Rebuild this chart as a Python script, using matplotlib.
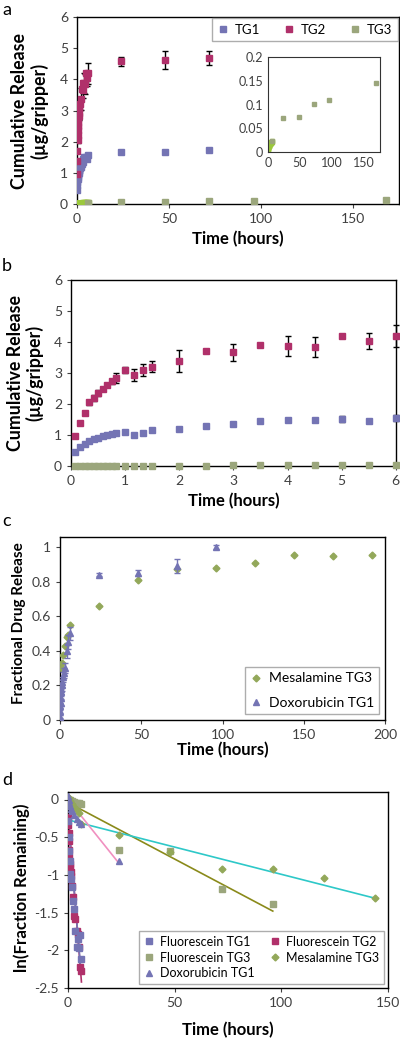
import numpy as np
import matplotlib
matplotlib.use("Agg")
import matplotlib.pyplot as plt

plt.rcParams['font.family'] = ['Lato', 'DejaVu Sans']
plt.rcParams['font.size'] = 9

c_tg1 = "#7474b4"
c_tg2 = "#b0306a"
c_tg3 = "#9ba67c"
c_tg3e = "#9bc83c"
c_mes = "#93a85a"

# ---- panels a / b : cumulative release (ug/gripper) ----
t_short = [0.083, 0.167, 0.25, 0.333, 0.417, 0.5, 0.583, 0.667, 0.75, 0.833,
           1.0, 1.167, 1.333, 1.5, 2.0, 2.5, 3.0, 3.5, 4.0, 4.5, 5.0, 5.5, 6.0]
tg1_short = [0.44, 0.61, 0.72, 0.81, 0.86, 0.92, 0.97, 0.99, 1.02, 1.07,
             1.10, 1.01, 1.08, 1.15, 1.20, 1.29, 1.34, 1.44, 1.50, 1.47, 1.51, 1.45, 1.56]
tg1_short_err = [0, 0, 0, 0, 0, 0, 0, 0, 0, 0,
                 0, 0, 0, 0, 0.05, 0, 0, 0, 0, 0.06, 0.1, 0, 0.1]
tg2_short = [0.96, 1.38, 1.71, 2.05, 2.20, 2.36, 2.50, 2.60, 2.74, 2.84,
             3.09, 2.93, 3.09, 3.20, 3.38, 3.70, 3.67, 3.89, 3.88, 3.85, 4.19, 4.03, 4.19]
tg2_short_err = [0, 0, 0, 0.08, 0.1, 0.1, 0.05, 0.05, 0.08, 0.15,
                 0.1, 0.2, 0.2, 0.18, 0.35, 0, 0.27, 0, 0.33, 0.32, 0, 0.25, 0.35]
tg3_short = [0.005, 0.006, 0.007, 0.008, 0.009, 0.010, 0.010, 0.011, 0.011, 0.012,
             0.012, 0.013, 0.013, 0.014, 0.015, 0.016, 0.017, 0.018, 0.019, 0.020, 0.021, 0.022, 0.023]

t_long = [24, 48, 72]
tg1_long = [1.68, 1.67, 1.75]
tg2_long = [4.58, 4.62, 4.68]
tg2_long_err = [0.15, 0.3, 0.23]
t3_long = [24, 48, 72, 96, 168]
tg3_long = [0.072, 0.074, 0.102, 0.110, 0.145]

# ---- panel c : fractional drug release ----
mes_t = [0.5, 1, 2, 3, 4, 5, 6, 24, 48, 72, 96, 120, 144, 168, 192]
mes_f = [0.30, 0.33, 0.376, 0.425, 0.48, 0.49, 0.55, 0.66, 0.807, 0.873, 0.878, 0.907, 0.952, 0.948, 0.952]
dox_t = [0.083, 0.167, 0.25, 0.333, 0.5, 0.667, 0.833, 1.0, 1.5, 2.0, 2.5, 3.0, 4.0, 5.0, 6.0, 24, 48, 72, 96]
dox_f = [0.02, 0.05, 0.08, 0.10, 0.13, 0.16, 0.18, 0.20, 0.22, 0.25, 0.27, 0.30, 0.40, 0.45, 0.50, 0.84, 0.85, 0.89, 1.0]
dox_err = [0.01, 0.02, 0.02, 0.02, 0.02, 0.02, 0.03, 0.03, 0.03, 0.03, 0.03, 0.03, 0.04, 0.04, 0.04, 0.01, 0.015, 0.04, 0.01]

# ---- panel d : ln(fraction remaining) ----
fl1_t = [0.083, 0.25, 0.5, 0.75, 1.0, 1.5, 2.0, 2.5, 3.0, 3.5, 4.0, 4.5, 5.0, 5.5, 6.0]
fl1_y = [-0.29, -0.50, -0.68, -0.82, -0.99, -1.06, -1.16, -1.35, -1.45, -1.75, -1.95, -1.85, -1.97, -1.80, -2.12]
fl2_t = [0.083, 0.167, 0.25, 0.333, 0.5, 0.667, 0.833, 1.0, 1.167, 1.333, 1.5, 2.0, 2.5, 3.0, 3.5, 4.0, 4.5, 5.0, 5.5, 6.0]
fl2_y = [-0.23, -0.34, -0.44, -0.55, -0.67, -0.76, -0.86, -0.96, -0.90, -0.96, -1.02, -1.15, -1.29, -1.55, -1.58, -1.75, -1.78, -1.95, -2.22, -2.27]
fl3_t = [0.25, 1, 2, 3, 4, 5, 6, 24, 48, 72, 96]
fl3_y = [0.0, -0.01, -0.02, -0.03, -0.04, -0.05, -0.06, -0.665, -0.687, -1.19, -1.39]
mes_d_t = [0.5, 1, 2, 3, 4, 5, 6, 24, 48, 72, 96, 120, 144]
mes_d_y = [0.02, -0.02, -0.06, -0.10, -0.14, -0.18, -0.32, -0.475, -0.69, -0.916, -0.916, -1.035, -1.30]
dox_d_t = [0.083, 0.25, 0.5, 1.0, 1.5, 2.0, 3.0, 4.0, 5.0, 6.0, 24]
dox_d_y = [0.05, 0.0, -0.05, -0.08, -0.12, -0.15, -0.20, -0.26, -0.30, -0.33, -0.82]

# linear fits (end points)
fit_fl1_x, fit_fl1_y = [0, 6.0], [-0.25, -2.25]
fit_fl2_x, fit_fl2_y = [0, 6.3], [-0.15, -2.42]
fit_fl3_x, fit_fl3_y = [0, 96], [-0.04, -1.48]
fit_mes_x, fit_mes_y = [0, 144], [-0.27, -1.31]
fit_dox_x, fit_dox_y = [0, 24], [0.0, -0.85]

fig = plt.figure(figsize=(4, 10.4), dpi=100)

def style(ax):
    for s in ax.spines.values():
        s.set_linewidth(1.0)
        s.set_color("black")
    ax.tick_params(direction="out", length=3, width=0.8, labelsize=10, colors="#404040")

lbl = dict(fontsize=12, fontweight="bold")

# ----- a -----
ax = fig.add_axes([0.1925, 0.8038, 0.805, 0.1798])
style(ax)
h1 = ax.errorbar(t_short + t_long, tg1_short + tg1_long, fmt="s", color=c_tg1, ms=4.5, zorder=3)
h2 = ax.errorbar(t_short + t_long, tg2_short + tg2_long, yerr=tg2_short_err + tg2_long_err,
                 fmt="s", color=c_tg2, ms=4.5, ecolor="black", elinewidth=1, capsize=2.5, zorder=4)
ax.plot(t_short, tg3_short, "s", color=c_tg3e, ms=4.5, zorder=3)
h3, = ax.plot([6] + t3_long, [tg3_short[-1]] + tg3_long, "s", color=c_tg3, ms=4.5, zorder=3)
ax.set_xlim(0, 175)
ax.set_ylim(0, 6)
ax.set_xticks([0, 50, 100, 150])
ax.set_xlabel("Time (hours)", **lbl)
ax.set_ylabel("Cumulative Release\n(\u00b5g/gripper)", fontsize=12.8, fontweight="bold", linespacing=1.1)
ax.yaxis.set_label_coords(-0.09, 0.5)
ax.legend([h1[0], h2[0], h3], ["TG1", "TG2", "TG3"], loc="upper right", ncol=3, fontsize=9.5,
          frameon=True, fancybox=False, edgecolor="#999999", handlelength=0.8, handletextpad=0.5,
          columnspacing=1.8, borderaxespad=0.1)
fig.text(0.005, 0.998, "a", fontsize=13, va="top")

ins = fig.add_axes([0.67, 0.8538, 0.28, 0.0913])
for s in ins.spines.values():
    s.set_linewidth(0.8)
    s.set_color("#333333")
ins.tick_params(length=0, labelsize=9, colors="#404040")
ins.plot(t_short, tg3_short, "s", color=c_tg3e, ms=3.5)
ins.plot([6] + t3_long, [tg3_short[-1]] + tg3_long, "s", color=c_tg3, ms=3.5)
ins.set_xlim(0, 175)
ins.set_ylim(0, 0.2)
ins.set_xticks([0, 50, 100, 150])
ins.set_yticks([0, 0.05, 0.1, 0.15, 0.2])
ins.set_yticklabels(["0", "0.05", "0.1", "0.15", "0.2"])

# ----- b -----
ax = fig.add_axes([0.1775, 0.5519, 0.812, 0.1788])
style(ax)
ax.errorbar(t_short, tg1_short, yerr=tg1_short_err, fmt="s", color=c_tg1, ms=4.5,
            ecolor="black", elinewidth=1, capsize=2.5, zorder=3, clip_on=False)
ax.errorbar(t_short, tg2_short, yerr=tg2_short_err, fmt="s", color=c_tg2, ms=4.5,
            ecolor="black", elinewidth=1, capsize=2.5, zorder=4, clip_on=False)
ax.plot(t_short, tg3_short, "s", color=c_tg3, ms=4.5, zorder=3, clip_on=False)
ax.set_xlim(0, 6)
ax.set_ylim(0, 6)
ax.set_xlabel("Time (hours)", **lbl)
ax.set_ylabel("Cumulative Release\n(\u00b5g/gripper)", fontsize=12.8, fontweight="bold", linespacing=1.1)
ax.yaxis.set_label_coords(-0.085, 0.5)
fig.text(0.005, 0.752, "b", fontsize=13, va="top")

# ----- c -----
ax = fig.add_axes([0.15, 0.3077, 0.8125, 0.176])
style(ax)
hm, = ax.plot(mes_t, mes_f, "D", color=c_mes, ms=3.5, zorder=3)
hd = ax.errorbar(dox_t, dox_f, yerr=dox_err, fmt="^", color=c_tg1, ms=4.5, ecolor=c_tg1,
                 elinewidth=1, capsize=2, zorder=4)
ax.set_xlim(0, 200)
ax.set_ylim(0, 1.058)
ax.set_yticks([0, 0.2, 0.4, 0.6, 0.8, 1])
ax.set_yticklabels(["0", "0.2", "0.4", "0.6", "0.8", "1"])
ax.set_xlabel("Time (hours)", **lbl, labelpad=1)
ax.set_ylabel("Fractional Drug Release", fontsize=11, fontweight="bold")
ax.yaxis.set_label_coords(-0.105, 0.53)
ax.legend([hm, hd[0]], ["Mesalamine TG3", "Doxorubicin TG1"], loc="lower right", fontsize=10,
          frameon=True, fancybox=False, edgecolor="#999999",
          handlelength=0.8, handletextpad=0.5, borderaxespad=0.4, labelspacing=0.9)
fig.text(0.005, 0.507, "c", fontsize=13, va="top")

# ----- d -----
ax = fig.add_axes([0.17, 0.05, 0.8, 0.1885])
style(ax)
ax.plot(fit_fl2_x, fit_fl2_y, color=c_tg2, lw=1.2, zorder=2)
ax.plot(fit_fl1_x, fit_fl1_y, color=c_tg1, lw=1.2, zorder=2)
ax.plot(fit_fl3_x, fit_fl3_y, color="#8a8a1a", lw=1.2, zorder=2)
ax.plot(fit_mes_x, fit_mes_y, color="#2ec8c8", lw=1.2, zorder=2)
ax.plot(fit_dox_x, fit_dox_y, color="#f090c0", lw=1.2, zorder=2)
p1, = ax.plot(fl1_t, fl1_y, "s", color=c_tg1, ms=4.5, zorder=4)
p2, = ax.plot(fl2_t, fl2_y, "s", color=c_tg2, ms=4.5, zorder=3)
p3, = ax.plot(fl3_t, fl3_y, "s", color=c_tg3, ms=4.5, zorder=3)
p4, = ax.plot(mes_d_t, mes_d_y, "D", color=c_mes, ms=3.5, zorder=3)
p5, = ax.plot(dox_d_t, dox_d_y, "^", color=c_tg1, ms=4.5, zorder=4)
ax.set_xlim(0, 150)
ax.set_ylim(-2.5, 0.1)
ax.set_xticks([0, 50, 100, 150])
ax.set_yticks([-2.5, -2, -1.5, -1, -0.5, 0])
ax.set_yticklabels(["-2.5", "-2", "-1.5", "-1", "-0.5", "0"])
ax.set_xlabel("Time (hours)", **lbl, labelpad=9)
ax.set_ylabel("ln(Fraction Remaining)", fontsize=12.2, fontweight="bold")
ax.yaxis.set_label_coords(-0.12, 0.51)
ax.legend([p1, p3, p5, p2, p4],
          ["Fluorescein TG1", "Fluorescein TG3", "Doxorubicin TG1", "Fluorescein TG2", "Mesalamine TG3"],
          loc="lower right", ncol=2, fontsize=9, frameon=True, fancybox=False, edgecolor="#999999",
          handlelength=0.8, handletextpad=0.5, columnspacing=1.2, borderaxespad=0.3, labelspacing=0.3)
fig.text(0.005, 0.258, "d", fontsize=13, va="top")

fig.savefig("out.png", dpi=100)
